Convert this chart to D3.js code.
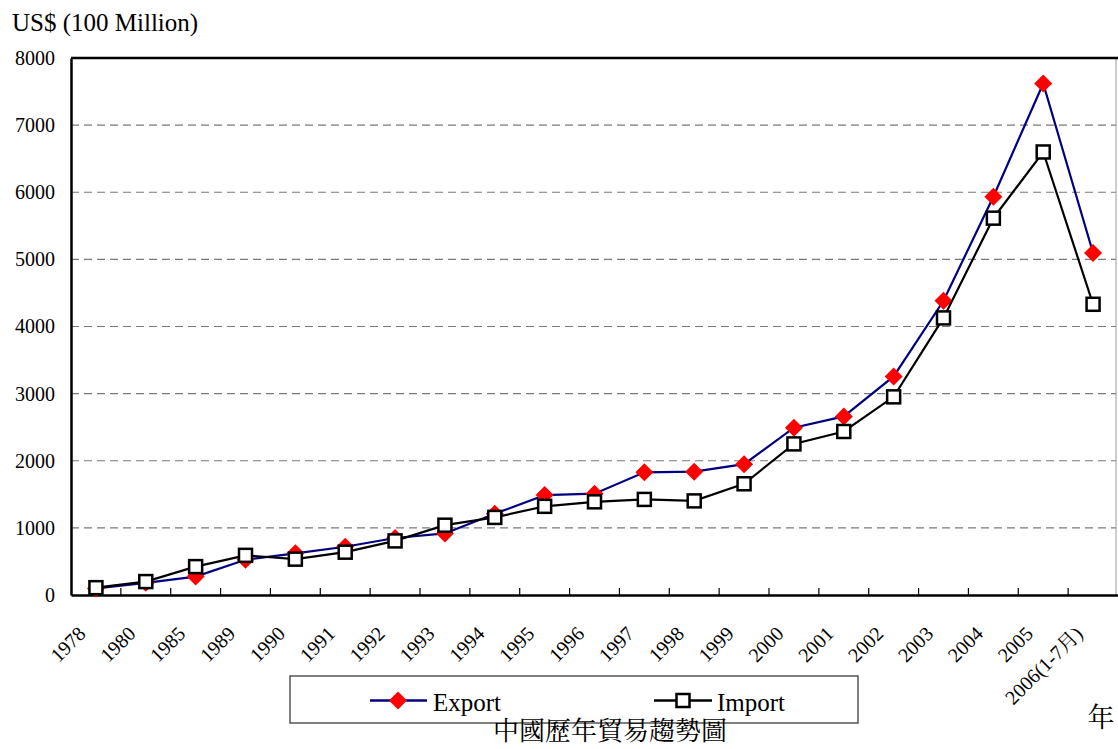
<!DOCTYPE html>
<html>
<head>
<meta charset="utf-8">
<script src="https://cdn.jsdelivr.net/npm/d3@7"></script>
<style>
html,body{margin:0;padding:0;background:#fff;}
svg{display:block;}
</style>
</head>
<body>
<svg id="chart" width="1118" height="749"></svg>
<script>
const years = ["1978","1980","1985","1989","1990","1991","1992","1993","1994","1995","1996","1997","1998","1999","2000","2001","2002","2003","2004","2005","2006(1-7月)"];
const exportValues = [98,181,274,525,621,719,849,917,1210,1488,1510,1828,1837,1949,2492,2661,3256,4383,5933,7620,5095];
const importValues = [109,200,423,591,534,638,806,1040,1156,1321,1388,1424,1402,1657,2251,2436,2952,4128,5614,6600,4331];
const yTicks = [0,1000,2000,3000,4000,5000,6000,7000,8000];
const seriesNames = ["Export","Import"];
const yAxisTitle = "US$ (100 Million)";
const xAxisTitle = "年";
const chartTitle = "中國歷年貿易趨勢圖";

const SERIF = '"Liberation Serif", "Noto Serif CJK TC", serif';
const CJK = '"Noto Serif CJK TC", "Noto Sans CJK TC", serif';

const svg = d3.select("#chart");

const L = 71, R = 1118, T = 58, B = 595;
const x = d3.scaleBand().domain(years).range([L, R]).paddingInner(0).paddingOuter(0);
const y = d3.scaleLinear().domain([0, 8000]).range([B, T]);
const cx = d => x(d) + x.bandwidth() / 2;

// gridlines
svg.append("g").selectAll("line").data(yTicks.filter(v => v > 0 && v < 8000)).join("line")
  .attr("x1", L).attr("x2", R - 2)
  .attr("y1", d => y(d)).attr("y2", d => y(d))
  .attr("stroke", "#7a7a7a").attr("stroke-width", 1.2).attr("stroke-dasharray", "8,5");

// right border (light)
svg.append("line").attr("x1", R - 2).attr("x2", R - 2).attr("y1", T).attr("y2", B)
  .attr("stroke", "#9a9a9a").attr("stroke-width", 1);
// top border
svg.append("line").attr("x1", L).attr("x2", R).attr("y1", T).attr("y2", T)
  .attr("stroke", "#000").attr("stroke-width", 2.5);

// y axis
const yAxis = svg.append("g").attr("transform", `translate(${L},0)`)
  .call(d3.axisLeft(y).tickValues(yTicks).tickSize(0).tickPadding(16).tickFormat(d3.format("d")));
yAxis.select(".domain").attr("stroke", "#000").attr("stroke-width", 2.5);
yAxis.selectAll("text").style("font-family", SERIF).style("font-size", "20px").attr("fill", "#000");

// x axis
const xAxis = svg.append("g").attr("transform", `translate(0,${B})`)
  .call(d3.axisBottom(x).tickSize(0).tickFormat(""));
xAxis.select(".domain").attr("stroke", "#000").attr("stroke-width", 2.5);
// inner tick marks at category boundaries
svg.append("g").selectAll("line").data(years.slice(1)).join("line")
  .attr("x1", d => x(d)).attr("x2", d => x(d))
  .attr("y1", B).attr("y2", B - 7)
  .attr("stroke", "#000").attr("stroke-width", 1.2);

// x labels rotated
svg.append("g").selectAll("text").data(years).join("text")
  .attr("transform", d => `translate(${cx(d) - 9},${B + 40}) rotate(-45)`)
  .attr("text-anchor", "end")
  .style("font-family", SERIF).style("font-size", "20px").attr("fill", "#000")
  .text(d => d);

// lines
const line = vals => d3.line().x((v, i) => cx(years[i])).y(v => y(v))(vals);
svg.append("path").attr("d", line(exportValues)).attr("fill", "none")
  .attr("stroke", "#000080").attr("stroke-width", 2.2);
svg.append("g").selectAll("path").data(exportValues).join("path")
  .attr("transform", (v, i) => `translate(${cx(years[i])},${y(v)})`)
  .attr("d", "M0,-9L9,0L0,9L-9,0Z").attr("fill", "#ff0000");

svg.append("path").attr("d", line(importValues)).attr("fill", "none")
  .attr("stroke", "#000").attr("stroke-width", 2.2);
svg.append("g").selectAll("rect").data(importValues).join("rect")
  .attr("x", (v, i) => cx(years[i]) - 6.5).attr("y", v => y(v) - 6.5)
  .attr("width", 13).attr("height", 13)
  .attr("fill", "#fff").attr("stroke", "#000").attr("stroke-width", 2.5);

// y axis title
svg.append("text").attr("x", 12).attr("y", 31)
  .style("font-family", SERIF).style("font-size", "25px").attr("fill", "#000").text(yAxisTitle);

// x axis title
svg.append("text").attr("x", 1101).attr("y", 727).attr("text-anchor", "middle")
  .style("font-family", CJK).style("font-size", "27px").attr("fill", "#000").text(xAxisTitle);

// legend
const lg = svg.append("g");
lg.append("rect").attr("x", 290).attr("y", 676).attr("width", 568).attr("height", 47)
  .attr("fill", "#fff").attr("stroke", "#555").attr("stroke-width", 1.5);
const ly = 700.5;
// export
lg.append("line").attr("x1", 370).attr("x2", 427).attr("y1", ly).attr("y2", ly)
  .attr("stroke", "#000080").attr("stroke-width", 2.5);
lg.append("path").attr("transform", `translate(398,${ly})`).attr("d", "M0,-9L9,0L0,9L-9,0Z").attr("fill", "#ff0000");
lg.append("text").attr("x", 433).attr("y", 711)
  .style("font-family", SERIF).style("font-size", "25px").attr("fill", "#000").text(seriesNames[0]);
// import
lg.append("line").attr("x1", 654).attr("x2", 712).attr("y1", ly).attr("y2", ly)
  .attr("stroke", "#000").attr("stroke-width", 2.5);
lg.append("rect").attr("x", 683 - 6.5).attr("y", ly - 6.5).attr("width", 13).attr("height", 13)
  .attr("fill", "#fff").attr("stroke", "#000").attr("stroke-width", 2.5);
lg.append("text").attr("x", 717).attr("y", 711)
  .style("font-family", SERIF).style("font-size", "25px").attr("fill", "#000").text(seriesNames[1]);

// chart title (bottom)
svg.append("text").attr("x", 610).attr("y", 740).attr("text-anchor", "middle")
  .style("font-family", CJK).style("font-size", "26px").attr("fill", "#000").text(chartTitle);
</script>
</body>
</html>
